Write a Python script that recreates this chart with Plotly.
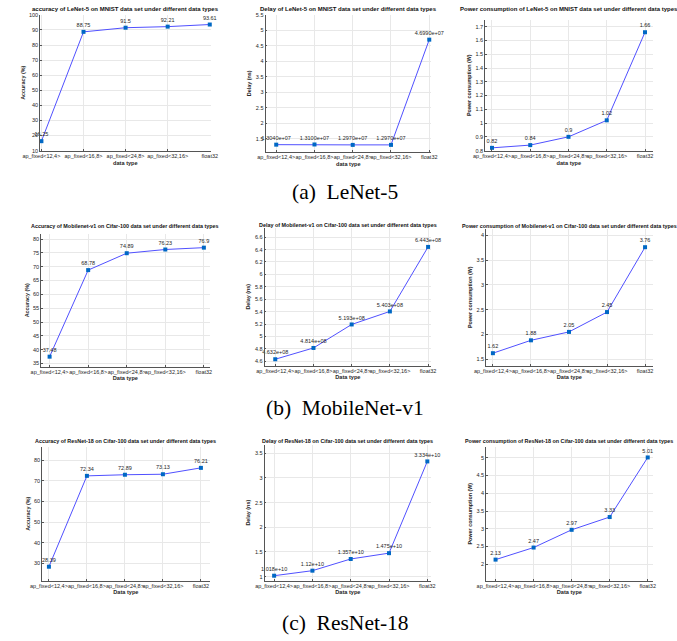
import plotly.graph_objects as go

W, H = 677, 641

categories = ["ap_fixed<12,4>", "ap_fixed<16,8>", "ap_fixed<24,8>", "ap_fixed<32,16>", "float32"]

lenet_acc = [16.25, 88.75, 91.5, 92.21, 93.61]
lenet_delay = [1.304, 1.31, 1.297, 1.297, 4.699]
lenet_delay_labels = ["1.3040e+07", "1.3100e+07", "1.2970e+07", "1.2970e+07", "4.6990e+07"]
lenet_power = [0.82, 0.84, 0.9, 1.02, 1.66]

mobilenet_acc = [37.48, 68.78, 74.89, 76.23, 76.9]
mobilenet_delay = [4.632, 4.814, 5.193, 5.403, 6.443]
mobilenet_delay_labels = ["4.632e+08", "4.814e+08", "5.193e+08", "5.403e+08", "6.443e+08"]
mobilenet_power = [1.62, 1.88, 2.05, 2.45, 3.76]

resnet_acc = [28.39, 72.34, 72.89, 73.13, 76.21]
resnet_delay = [1.018, 1.12, 1.357, 1.475, 3.334]
resnet_delay_labels = ["1.018e+10", "1.12e+10", "1.357e+10", "1.475e+10", "3.334e+10"]
resnet_power = [2.13, 2.47, 2.97, 3.33, 5.01]

titles = [
    "accuracy of LeNet-5 on MNIST data set under different data types",
    "Delay of LeNet-5 on MNIST data set under different data types",
    "Power consumption of LeNet-5 on MNIST data set under different data types",
    "Accuracy of Mobilenet-v1 on Cifar-100 data set under different data types",
    "Delay of Mobilenet-v1 on Cifar-100 data set under different data types",
    "Power consumption of Mobilenet-v1 on Cifar-100 data set under different data types",
    "Accuracy of ResNet-18 on Cifar-100 data set under different data types",
    "Delay of ResNet-18 on Cifar-100 data set under different data types",
    "Power consumption of ResNet-18 on Cifar-100 data set under different data types",
]
ytitles = ["Accuracy (%)", "Delay (ns)", "Power consumption (W)"] * 3
xtitles = ["data type"] * 3 + ["Data type"] * 6
captions = ["(a)  LeNet-5", "(b)  MobileNet-v1", "(c)  ResNet-18"]

def fmt(v):
    return ("%g" % v)

series = [
    (lenet_acc, [fmt(v) for v in lenet_acc]),
    (lenet_delay, lenet_delay_labels),
    (lenet_power, [fmt(v) for v in lenet_power]),
    (mobilenet_acc, [fmt(v) for v in mobilenet_acc]),
    (mobilenet_delay, mobilenet_delay_labels),
    (mobilenet_power, [fmt(v) for v in mobilenet_power]),
    (resnet_acc, [fmt(v) for v in resnet_acc]),
    (resnet_delay, resnet_delay_labels),
    (resnet_power, [fmt(v) for v in resnet_power]),
]

# layout in screen pixels: x0, x1, ytop, ybottom
boxes = [
    (23, 200, 12, 149), (257, 429, 12, 150), (485, 659, 17, 149),
    (24, 199, 233, 367), (256, 429, 227, 366), (486, 659, 228, 366),
    (25, 199, 448, 583), (256, 429, 446, 583), (486, 659, 448, 583),
]
xranges = [(-0.03, 4.02), (-0.28, 4.05), (-0.18, 4.2),
           (-0.22, 4.15), (-0.28, 4.08), (-0.18, 4.2),
           (-0.18, 4.23), (-0.25, 4.1), (-0.25, 4.13)]
yranges = [(10, 100), (1.08, 5.5), (0.8, 1.75),
           (33.9, 81.9), (4.53, 6.75), (1.37, 4.13),
           (21.7, 86.4), (0.92, 3.67), (1.54, 5.31)]
dticks = [10, 0.5, 0.1, 5, 0.2, 0.5, 10, 0.5, 0.5]
title_y = [6, 6.5, 6, 225, 224, 225, 442, 442, 442]
title_size = [6.0, 6.0, 6.0, 5.4, 5.4, 5.4, 5.4, 5.4, 5.4]
caption_y = [191, 409, 626]

px = lambda x: x / W
py = lambda y: 1 - y / H

FONT = "Liberation Sans, Arial, sans-serif"
TXT = "#262626"
esc = lambda s: s.replace("<", "&lt;").replace(">", "&gt;")
ticktext = [esc(c) for c in categories]

fig = go.Figure()
layout = dict(width=W, height=H, margin=dict(l=0, r=0, t=0, b=0),
              paper_bgcolor="white", plot_bgcolor="white", showlegend=False)
annotations = []

for i, ((vals, labels), (x0, x1, yt, yb)) in enumerate(zip(series, boxes)):
    n = i + 1
    xa = "x" if n == 1 else "x%d" % n
    ya = "y" if n == 1 else "y%d" % n
    fig.add_trace(go.Scatter(
        x=list(range(len(categories))), y=vals, xaxis=xa, yaxis=ya,
        mode="lines+markers+text", text=labels, textposition="top center",
        textfont=dict(family=FONT, size=5.5, color=TXT),
        line=dict(color="rgb(80,80,255)", width=1),
        marker=dict(symbol="square", size=4, color="#0068c4"),
        cliponaxis=False, hoverinfo="skip",
    ))
    common = dict(showline=True, linecolor="#555555", linewidth=0.8,
                  showgrid=True, gridcolor="#e8e8e8", gridwidth=0.8,
                  ticks="inside", ticklen=2, tickcolor="#555555",
                  tickfont=dict(family=FONT, size=5.5, color=TXT),
                  zeroline=False)
    layout["xaxis" + ("" if n == 1 else str(n))] = dict(
        domain=[px(x0), px(x1)], anchor=ya, range=list(xranges[i]),
        tickvals=list(range(len(categories))), ticktext=ticktext, tickangle=0,
        title=dict(text="<b>%s</b>" % xtitles[i], font=dict(family=FONT, size=5.6, color=TXT), standoff=2),
        **common)
    layout["yaxis" + ("" if n == 1 else str(n))] = dict(
        domain=[py(yb), py(yt)], anchor=xa, range=list(yranges[i]),
        dtick=dticks[i], tick0=0,
        title=dict(text="<b>%s</b>" % ytitles[i], font=dict(family=FONT, size=5.4, color=TXT), standoff=3),
        **common)
    annotations.append(dict(
        text="<b>%s</b>" % titles[i], xref="paper", yref="paper",
        x=px((x0 + x1) / 2), y=py(title_y[i]), xanchor="center", yanchor="middle",
        showarrow=False, font=dict(family=FONT, size=title_size[i], color="#111111")))

for cap, cy in zip(captions, caption_y):
    annotations.append(dict(
        text=cap, xref="paper", yref="paper", x=px(340), y=py(cy),
        xanchor="center", yanchor="middle", showarrow=False,
        font=dict(family="Liberation Serif, Times New Roman, serif", size=21.5, color="black")))

layout["annotations"] = annotations
fig.update_layout(**layout)
# remove the default 8px page margin so the figure fills the window exactly
fig.write_html("out.html", config={"displayModeBar": False},
               post_script="document.body.style.margin='0';")
